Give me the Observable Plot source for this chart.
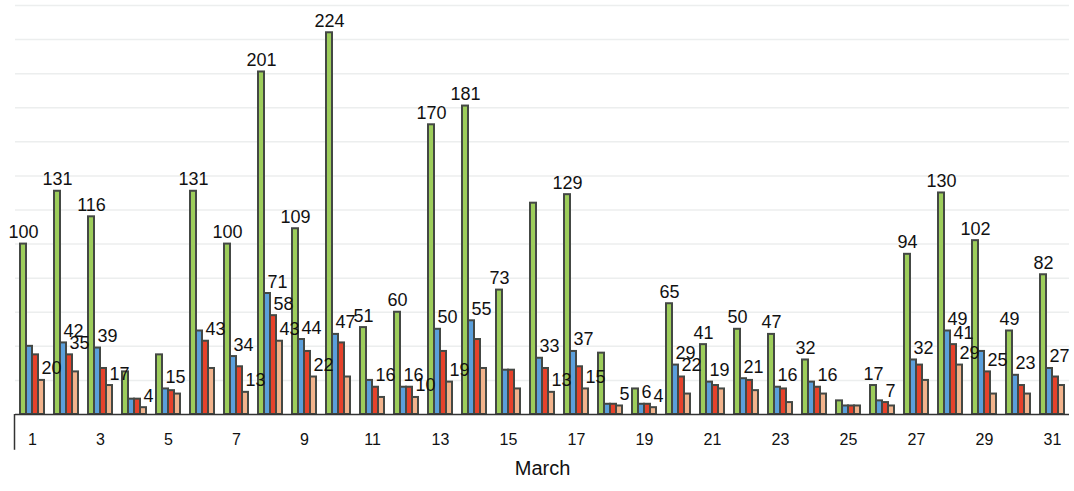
<!DOCTYPE html>
<html>
<head>
<meta charset="utf-8">
<script src="https://cdn.jsdelivr.net/npm/d3@7"></script>
<script src="https://cdn.jsdelivr.net/npm/@observablehq/plot@0.6"></script>
<style>
  body { margin: 0; background: #fff; }
  #chart { width: 1074px; height: 491px; }
</style>
</head>
<body>
<div id="chart"></div>
<script>
const days = d3.range(1, 32);
const seriesNames = ["Series 1", "Series 2", "Series 3", "Series 4"];
const seriesColors = ["#9dcd5b", "#5b9fdb", "#e6422b", "#f2b38c"];
const gridTicks = [20, 40, 60, 80, 100, 120, 140, 160, 180, 200, 220, 240];

const green = [100,131,116,25,35,131,100,201,109,224,51,60,170,181,73,124,129,36,15,65,41,50,47,32,8,17,94,130,102,49,82];
const blue  = [40,42,39,9,15,49,34,71,44,47,20,16,50,55,26,33,37,6,6,29,19,21,16,19,5,8,32,49,37,23,27];
const red   = [35,35,27,9,14,43,28,58,37,42,16,16,37,44,26,27,28,6,6,22,17,20,15,16,5,7,29,41,25,17,22];
const tan   = [20,25,17,4,12,27,13,43,22,22,10,10,19,27,15,13,15,5,4,12,15,14,7,12,5,5,20,29,12,12,17];

// days whose bar value label is visible
const greenLabelDays = [1,2,3,6,7,8,9,10,11,12,13,14,15,17,20,21,22,23,24,26,27,28,29,30,31];
const blueLabelDays  = [2,3,5,7,8,9,10,12,13,14,16,17,19,20,21,22,23,27,28,30,31];
const redLabelDays   = [2,6,8,11,20,24,26,28,29];
const tanLabelDays   = [1,3,4,7,8,9,12,13,16,17,18,19,28];

const seriesValues = [green, blue, red, tan];
const seriesLabelDays = [greenLabelDays, blueLabelDays, redLabelDays, tanLabelDays];

const rows = [];
days.forEach((day, i) => {
  seriesNames.forEach((s, j) => rows.push({day, series: s, value: seriesValues[j][i]}));
});
const labelRows = rows.filter(r => seriesLabelDays[seriesNames.indexOf(r.series)].includes(r.day));
const firstLabels = labelRows.filter(r => r.series === seriesNames[0]);
const otherLabels = labelRows.filter(r => r.series !== seriesNames[0]);

const font = "'Liberation Sans', Arial, Helvetica, sans-serif";

const chart = Plot.plot({
  width: 1074,
  height: 491,
  marginTop: 5,
  marginBottom: 77,
  marginLeft: 15,
  marginRight: 5,
  style: {fontFamily: font, fontSize: "16px", background: "white", color: "#111"},
  fx: {
    domain: days, padding: 0, axis: "bottom", tickSize: 0, tickPadding: 19,
    tickFormat: d => (d % 2 ? d : ""), label: "March", labelAnchor: "center", labelOffset: 60
  },
  x: {domain: seriesNames, paddingInner: 0, paddingOuter: 0.833, axis: null},
  y: {domain: [0, 240], axis: null},
  color: {type: "ordinal", domain: seriesNames, range: seriesColors},
  marks: [
    Plot.ruleY(gridTicks, {stroke: "#eceeee", strokeWidth: 1.5}),
    Plot.barY(rows, {fx: "day", x: "series", y: "value", fill: "series", stroke: "#444844", strokeWidth: 2, inset: 0}),
    Plot.ruleY([0], {stroke: "#333", strokeWidth: 1.5}),
    Plot.ruleX([{day: 1, series: seriesNames[0]}], {fx: "day", x: "series", y1: 0, y2: -21, dx: -9, stroke: "#333", strokeWidth: 1.5}),
    Plot.text(firstLabels, {fx: "day", x: "series", y: "value", text: d => String(d.value), lineAnchor: "bottom", dy: -6, fontSize: 18, fill: "#111"}),
    Plot.text(otherLabels, {fx: "day", x: "series", y: "value", text: d => String(d.value), lineAnchor: "bottom", textAnchor: "start", dy: -6, fontSize: 18, fill: "#111"})
  ]
});
d3.select(chart).selectAll('[aria-label="fx-axis label"] text, [aria-label="fx-axis label"]').style("font-size", "20px");
document.getElementById("chart").append(chart);
</script>
</body>
</html>
